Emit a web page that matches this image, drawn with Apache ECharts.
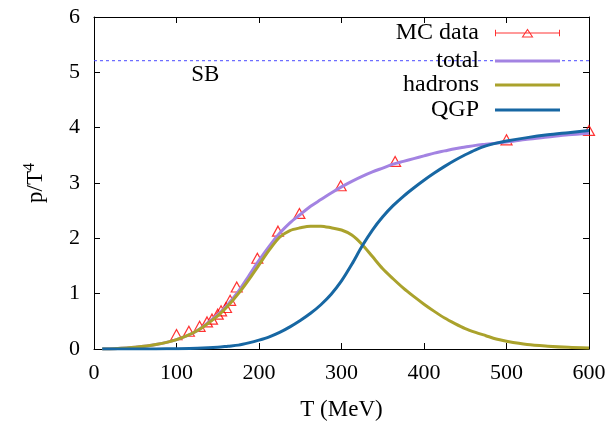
<!DOCTYPE html>
<html>
<head>
<meta charset="utf-8">
<script src="https://cdn.jsdelivr.net/npm/echarts@6/dist/echarts.min.js"></script>
<style>
  html, body { margin: 0; padding: 0; background: #fff; }
  #chart { width: 611px; height: 426px; }
</style>
</head>
<body>
<div id="chart"></div>
<script>
// Pressure over T^4 versus temperature: Monte Carlo points and model curves
const FONT = '"Liberation Serif", "DejaVu Serif", serif';

const xTicks = [0, 100, 200, 300, 400, 500, 600];
const yTicks = [0, 1, 2, 3, 4, 5, 6];

// Monte Carlo data points
const mcT = [100, 115, 128, 137, 143, 150, 154, 160, 165, 173, 198, 223, 249, 299, 365, 500, 600];
const mcP = [0.26, 0.32, 0.41, 0.49, 0.54, 0.63, 0.69, 0.75, 0.88, 1.12, 1.64, 2.13, 2.45, 2.95, 3.39, 3.78, 3.95];

// Model curves sampled along T (MeV), denser through the transition region
const curveT = [10, 25, 50, 75, 100, 125, 150, 162.5, 175, 187.5, 200, 212.5, 225, 237.5, 250, 262.5, 275, 287.5,
  300, 312.5, 325, 337.5, 350, 362.5, 375, 387.5, 400, 412.5, 425, 437.5, 450, 462.5, 475, 487.5, 500, 525, 550, 575, 600];
const totalP = [0, 0.005, 0.03, 0.08, 0.17, 0.33, 0.62, 0.81, 1.04, 1.32, 1.6, 1.86, 2.09, 2.28, 2.43, 2.58, 2.7, 2.82,
  2.93, 3.03, 3.12, 3.2, 3.27, 3.34, 3.39, 3.44, 3.49, 3.54, 3.58, 3.62, 3.65, 3.68, 3.7, 3.72, 3.74, 3.79, 3.83, 3.87, 3.9];
const hadronP = [0, 0.005, 0.03, 0.08, 0.17, 0.33, 0.6, 0.78, 1.0, 1.25, 1.52, 1.79, 2.02, 2.14, 2.19, 2.22, 2.22, 2.19,
  2.15, 2.06, 1.89, 1.67, 1.45, 1.27, 1.1, 0.95, 0.81, 0.68, 0.56, 0.46, 0.37, 0.3, 0.24, 0.18, 0.14, 0.08, 0.05, 0.03, 0.02];
const qgpP = [0, 0, 0, 0.002, 0.005, 0.012, 0.03, 0.05, 0.07, 0.11, 0.16, 0.22, 0.3, 0.4, 0.515, 0.645, 0.8, 0.99,
  1.23, 1.53, 1.86, 2.15, 2.39, 2.59, 2.76, 2.91, 3.05, 3.18, 3.3, 3.41, 3.51, 3.6, 3.67, 3.72, 3.76, 3.82, 3.87, 3.91, 3.95];

// Stefan-Boltzmann limit
const sbValue = 5.21;
const sbRange = [0, 610];

const zip = (xs, ys) => xs.map((x, i) => [x, ys[i]]);

const COLORS = {
  mc: '#ff0000',
  total: '#a383e2',
  hadrons: '#aaa22c',
  qgp: '#1767a3',
  sb: '#4a4aff'
};

// errorbar-style key: horizontal bar with end caps and an open triangle
const mcIcon = 'path://M0 4.1H65V5.0H0Z M0 1.3H1V7.8H0Z M64 1.3H65V7.8H64Z ' +
  'M32.5 0L38.5 9L26.5 9Z M32.5 2.1L28.4 8L36.6 8Z';
const barIcon = 'path://M0 0H65V3H0Z';

function legendFor(name, icon, h, top, color) {
  return {
    data: [{ name: name, icon: icon, itemStyle: { color: color, borderWidth: 0 } }],
    right: 51, top: top, padding: 0,
    align: 'right', itemWidth: 65, itemHeight: h,
    textStyle: { fontFamily: FONT, fontSize: 24, color: '#000', padding: [0, 11, 0, 0] },
    selectedMode: false
  };
}

const chart = echarts.init(document.getElementById('chart'), null, { renderer: 'canvas' });

const baseAxis = {
  type: 'value',
  axisLine: { show: true, onZero: false, lineStyle: { color: '#000', width: 1 } },
  axisTick: { show: true, inside: true, length: 6, lineStyle: { color: '#000' } },
  splitLine: { show: false }
};

const smoothCurve = (name, values, color) => ({
  name: name, type: 'line', symbol: 'none', smooth: 0.3,
  data: zip(curveT, values),
  lineStyle: { color: color, width: 3 }, itemStyle: { color: color }
});

chart.setOption({
  backgroundColor: '#fff',
  animation: false,
  grid: { left: 94, right: 22, top: 17, bottom: 76 },
  legend: [
    legendFor('MC data', mcIcon, 9, 21, COLORS.mc),
    legendFor('total', barIcon, 3, 49, COLORS.total),
    legendFor('hadrons', barIcon, 3, 73, COLORS.hadrons),
    legendFor('QGP', barIcon, 3, 98, COLORS.qgp)
  ],
  xAxis: [
    Object.assign({}, baseAxis, {
      position: 'bottom', min: xTicks[0], max: xTicks[xTicks.length - 1], interval: 100,
      name: 'T (MeV)', nameLocation: 'middle', nameGap: 49,
      nameTextStyle: { fontFamily: FONT, fontSize: 23, color: '#000' },
      axisLabel: { fontFamily: FONT, fontSize: 22, color: '#000', margin: 13 }
    }),
    Object.assign({}, baseAxis, {
      position: 'top', min: xTicks[0], max: xTicks[xTicks.length - 1], interval: 100,
      axisLabel: { show: false }
    })
  ],
  yAxis: [
    Object.assign({}, baseAxis, {
      position: 'left', min: yTicks[0], max: yTicks[yTicks.length - 1], interval: 1,
      name: 'p/T{sup|4}', nameLocation: 'middle', nameGap: 45,
      nameTextStyle: {
        fontFamily: FONT, fontSize: 23, color: '#000',
        rich: { sup: { fontFamily: FONT, fontSize: 16, color: '#000', padding: [0, 0, 11, 0] } }
      },
      axisLabel: { fontFamily: FONT, fontSize: 22, color: '#000', margin: 14 }
    }),
    Object.assign({}, baseAxis, {
      position: 'right', min: yTicks[0], max: yTicks[yTicks.length - 1], interval: 1,
      axisLabel: { show: false }
    })
  ],
  series: [
    {
      name: 'SB', type: 'line', clip: false, symbol: 'none', silent: true,
      data: [[sbRange[0], sbValue], [sbRange[1], sbValue]],
      lineStyle: { color: COLORS.sb, width: 1, type: [3, 3] },
      markPoint: {
        symbol: 'rect', symbolSize: 1, silent: true,
        itemStyle: { color: 'transparent' },
        label: { show: true, formatter: 'SB', position: 'inside', fontFamily: FONT, fontSize: 23, color: '#000' },
        data: [{ coord: [135, 4.95] }]
      }
    },
    {
      name: 'MC data', type: 'scatter', symbol: 'triangle', symbolSize: [11, 10],
      data: zip(mcT, mcP),
      itemStyle: { color: 'transparent', borderColor: COLORS.mc, borderWidth: 1.2 }
    },
    smoothCurve('total', totalP, COLORS.total),
    smoothCurve('hadrons', hadronP, COLORS.hadrons),
    smoothCurve('QGP', qgpP, COLORS.qgp)
  ]
});
</script>
</body>
</html>
